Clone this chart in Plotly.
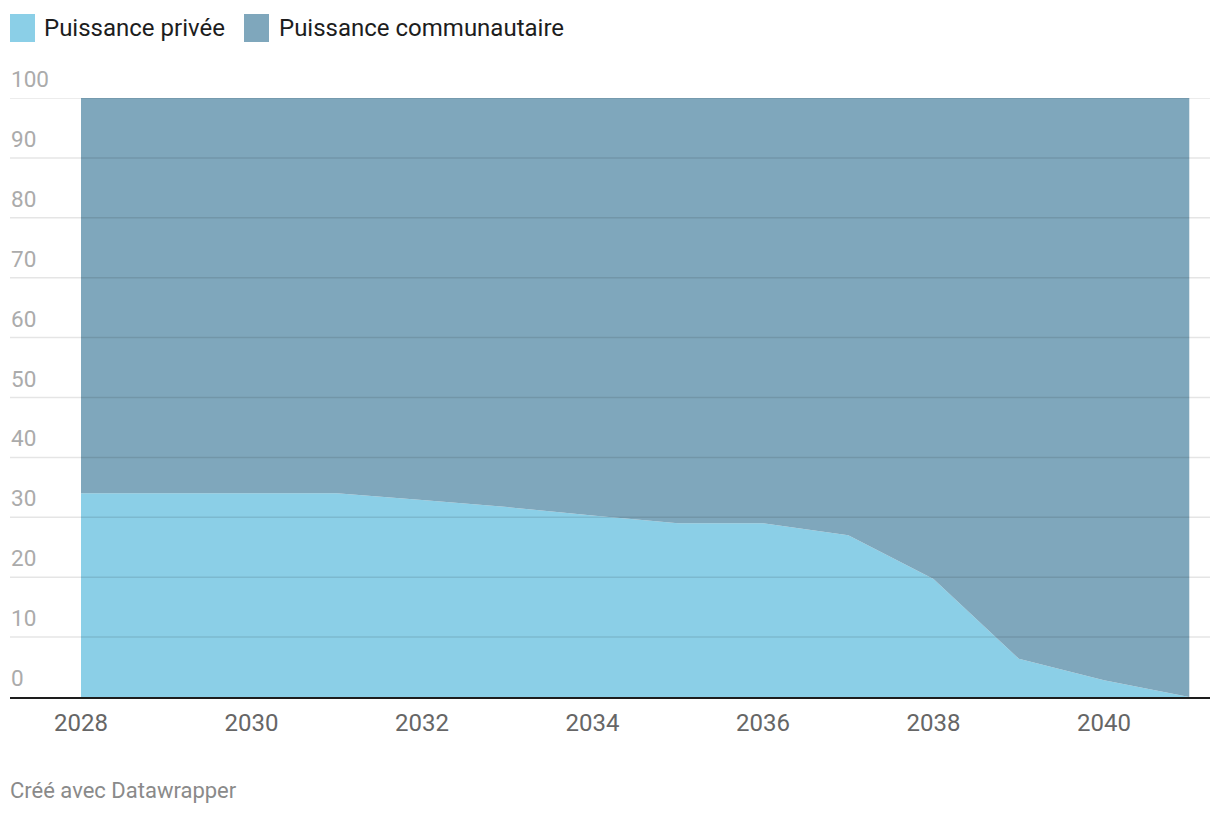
import plotly.graph_objects as go

years = [2028, 2029, 2030, 2031, 2032, 2033, 2034, 2035, 2036, 2037, 2038, 2039, 2040, 2041]
privee = [34, 34, 34, 34, 32.9, 31.7, 30.3, 29, 29, 27, 19.7, 6.4, 2.8, 0]
communautaire = [100 - v for v in privee]
series_names = ["Puissance privée", "Puissance communautaire"]
series_colors = ["#8bcfe7", "#7fa7bc"]
y_ticks = [0, 10, 20, 30, 40, 50, 60, 70, 80, 90, 100]
x_ticks = [2028, 2030, 2032, 2034, 2036, 2038, 2040]
footer = "Créé avec Datawrapper"

FONT = "Roboto"
OFF = 8  # page body margin offset
W, H = 1212, 806
# plot area in reference pixel coords: x 10..1210, y 98..697
PL, PR, PT, PB = 10, 1210, 98, 697
ML, MR, MT, MB = PL - OFF, W - (PR - OFF), PT - OFF, H - (PB - OFF)
PW, PH = PR - PL, PB - PT


def px_x(x):
    return (x - PL) / PW


def px_y(y):
    return (PB - y) / PH


fig = go.Figure()
for name, vals, col in zip(series_names, [privee, communautaire], series_colors):
    fig.add_trace(go.Scatter(
        x=years, y=vals, name=name, mode="lines", stackgroup="one",
        line=dict(width=0, color=col), fillcolor=col, hoverinfo="skip",
        showlegend=False,
    ))

shapes = []
for t in y_ticks[1:]:
    shapes.append(dict(type="line", xref="paper", yref="y", x0=0, x1=1, y0=t, y1=t,
                       line=dict(color="rgba(0,0,0,0.1)", width=1.5), layer="above"))

annotations = []
for t in y_ticks:
    annotations.append(dict(xref="paper", yref="y", x=0, y=t, text=str(t), showarrow=False,
                            xanchor="left", yanchor="bottom", yshift=4, xshift=-1,
                            font=dict(family=FONT, size=22.5, color="#ababab")))

legend_x = [10, 244]
text_x = [44, 279]
for i, (name, col) in enumerate(zip(series_names, series_colors)):
    shapes.append(dict(type="rect", xref="paper", yref="paper",
                       x0=px_x(legend_x[i]), x1=px_x(legend_x[i] + 25),
                       y0=px_y(42), y1=px_y(14),
                       fillcolor=col, line=dict(width=0)))
    annotations.append(dict(xref="paper", yref="paper", x=px_x(text_x[i]) , y=px_y(28),
                            text=name, showarrow=False, xanchor="left", yanchor="middle",
                            xshift=-2,
                            font=dict(family=FONT, size=24, color="#1d1d1d")))

annotations.append(dict(xref="paper", yref="paper", x=px_x(10), y=px_y(790),
                        text=footer, showarrow=False, xanchor="left", yanchor="middle",
                        xshift=-2,
                        font=dict(family=FONT, size=22, color="#8a8a8a")))

fig.update_layout(
    width=W, height=H,
    margin=dict(l=ML, r=MR, t=MT, b=MB),
    paper_bgcolor="white", plot_bgcolor="white",
    font=dict(family=FONT),
    showlegend=False,
    shapes=shapes,
    annotations=annotations,
    xaxis=dict(range=[2027.167, 2041.243], tickvals=x_ticks, ticktext=[str(v) for v in x_ticks],
               showgrid=False, zeroline=False, showline=True, linecolor="#1d1d1d", linewidth=2,
               ticks="", tickfont=dict(family=FONT, size=24, color="#666666"), ticklabelstandoff=3,
               fixedrange=True),
    yaxis=dict(range=[0, 100], showgrid=False, zeroline=False, showticklabels=False,
               fixedrange=True),
)

fig.write_html("out.html")
